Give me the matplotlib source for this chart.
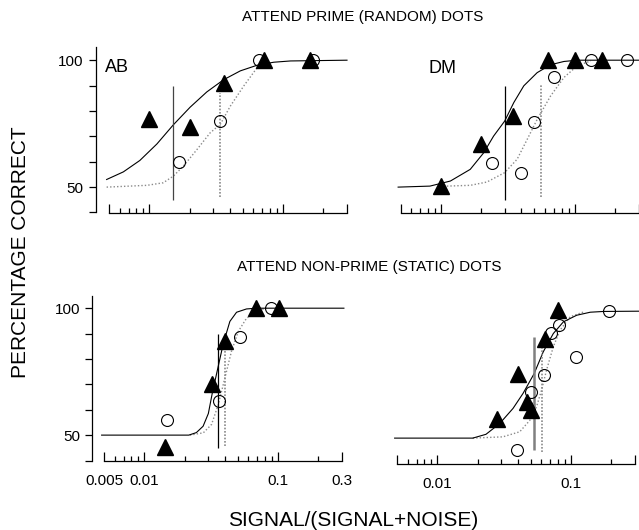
import numpy as np
import matplotlib.pyplot as plt
from matplotlib.ticker import FixedLocator, FixedFormatter

plt.rcParams['font.family'] = ['Liberation Sans', 'DejaVu Sans']

# ---- attend prime (random) dots, observer AB ----
pab_tri_x = [0.01, 0.0201, 0.0363, 0.0724, 0.1575]
pab_tri_y = [77, 73.5, 91, 100, 100]
pab_circ_x = [0.0168, 0.0339, 0.0665, 0.167]
pab_circ_y = [60, 76, 100, 100]
pab_fit_x = [0.0048, 0.0064, 0.0085, 0.0114, 0.0151, 0.0202, 0.0269, 0.0359, 0.0479, 0.0638, 0.0851, 0.1135, 0.3]
pab_fit_y = [53.0, 56.0, 60.5, 67.0, 74.5, 81.5, 87.5, 92.3, 95.8, 98.0, 99.2, 99.7, 100]
pab_fit2_x = [0.0048, 0.0096, 0.0127, 0.0151, 0.018, 0.0227, 0.0285, 0.0339, 0.0403, 0.0507, 0.0638, 0.0759]
pab_fit2_y = [50, 50.7, 51.7, 54.3, 58.3, 64.8, 71.4, 74.7, 81.9, 89.8, 97, 99.3]
pab_thr = [0.0151, 0.0339]

# ---- attend prime (random) dots, observer DM ----
pdm_tri_x = [0.01, 0.0201, 0.0345, 0.0634, 0.1006, 0.161]
pdm_tri_y = [50.5, 67, 78, 100, 100, 100]
pdm_circ_x = [0.0241, 0.04, 0.0495, 0.07, 0.132, 0.248]
pdm_circ_y = [59.6, 55.4, 75.8, 93.2, 100, 100]
pdm_fit_x = [0.0048, 0.0083, 0.0118, 0.0166, 0.0209, 0.0248, 0.030, 0.0351, 0.0417, 0.0525, 0.0661, 0.0832, 0.1047, 0.3]
pdm_fit_y = [50, 50.4, 52.4, 57, 63.5, 70.1, 76, 83.3, 89.9, 95.1, 98.2, 99.5, 100, 100]
pdm_fit2_x = [0.0111, 0.0166, 0.0221, 0.030, 0.0372, 0.0442, 0.0525, 0.0661, 0.0832, 0.1047, 0.1318]
pdm_fit2_y = [50.4, 50.7, 52, 55.7, 61, 68.8, 76.7, 85.9, 93.2, 97.8, 99.7]
pdm_thr = [0.030, 0.0556]

# ---- attend non-prime (static) dots, observer AB ----
sab_tri_x = [0.0143, 0.0322, 0.040, 0.0681, 0.101]
sab_tri_y = [45.4, 70.2, 87.2, 100, 100]
sab_circ_x = [0.0149, 0.036, 0.052, 0.0892]
sab_circ_y = [56.1, 63.3, 88.5, 100]
sab_fit_x = [0.0048, 0.0215, 0.0245, 0.0275, 0.0301, 0.0322, 0.0353, 0.0389, 0.0436, 0.0489, 0.058, 0.0689, 0.31]
sab_fit_y = [50, 50, 51, 53.5, 58.5, 66.5, 76, 86, 94.8, 98.4, 99.7, 100, 100]
sab_fit2_x = [0.0219, 0.0276, 0.0318, 0.0357, 0.040, 0.0448, 0.0503, 0.058, 0.0689, 0.0819]
sab_fit2_y = [50, 50.9, 54.2, 62, 72.5, 83, 90.8, 96, 99, 100]
sab_thr = [0.0353, 0.040]

# ---- attend non-prime (static) dots, observer DM ----
sdm_tri_x = [0.028, 0.0401, 0.0464, 0.0499, 0.0637, 0.0802]
sdm_tri_y = [57.7, 75.4, 64.3, 61, 89.2, 100.5]
sdm_circ_x = [0.0396, 0.0499, 0.0626, 0.0707, 0.0817, 0.109, 0.191]
sdm_circ_y = [45.3, 68.2, 74.8, 91.5, 94.7, 82, 100]
sdm_fit_x = [0.0048, 0.0184, 0.0231, 0.0292, 0.0368, 0.0437, 0.0529, 0.0619, 0.0736, 0.0875, 0.110, 0.139, 0.175, 0.32]
sdm_fit_y = [50, 50, 51.5, 55.7, 61.7, 67.6, 75.4, 84, 91.2, 95.8, 98.4, 99.6, 99.9, 100]
sdm_fit2_x = [0.0184, 0.0309, 0.0413, 0.0491, 0.0551, 0.0601, 0.0655, 0.0736, 0.0826, 0.0983, 0.124]
sdm_fit2_y = [50, 50.5, 52.5, 57, 62.3, 68.9, 76.8, 86, 92.5, 97.8, 99.7]
sdm_thr = [0.0529, 0.0601]

x_major = [0.005, 0.01, 0.1, 0.3]
x_minor = [0.006, 0.007, 0.008, 0.009, 0.02, 0.03, 0.04, 0.05, 0.06, 0.07, 0.08, 0.09, 0.2]
y_ticks = [40, 50, 60, 70, 80, 90, 100]
y_labels = ['', '50', '', '', '', '', '100']

W, H = 639, 530
fig = plt.figure(figsize=(W / 100, H / 100), dpi=100)


def panel(left, bottom, show_y, xlabels, yoff):
    ax = fig.add_axes([left / W, 1 - bottom / H, 238 / W, 165 / H])
    ax.set_xscale('log')
    ax.set_xlim(0.005, 0.3)
    ax.set_ylim(40, 105)
    ax.spines['top'].set_visible(False)
    ax.spines['right'].set_visible(False)
    ax.spines['bottom'].set_linewidth(0.9)
    ax.xaxis.set_major_locator(FixedLocator(x_major))
    ax.xaxis.set_minor_locator(FixedLocator(x_minor))
    ax.xaxis.set_major_formatter(FixedFormatter(xlabels))
    ax.xaxis.set_minor_formatter(FixedFormatter([''] * len(x_minor)))
    ax.tick_params(axis='x', which='major', direction='in', length=6.5, width=0.9,
                   pad=10, labelsize=11)
    ax.tick_params(axis='x', which='minor', direction='in', length=3.3, width=0.9)
    if show_y:
        ax.spines['left'].set_position(('outward', yoff))
        ax.spines['left'].set_linewidth(0.9)
        ax.set_yticks(y_ticks)
        ax.set_yticklabels(y_labels)
        ax.tick_params(axis='y', direction='out', length=5, width=0.9, pad=3.5, labelsize=11)
    else:
        ax.spines['left'].set_visible(False)
        ax.tick_params(axis='y', left=False, labelleft=False)
    return ax


def draw(ax, tri_x, tri_y, circ_x, circ_y, fit_x, fit_y, fit2_x, fit2_y, thr,
         span, span2, thr_color='black', thr_lw=0.9):
    ax.plot(fit2_x, fit2_y, color='#8a8a8a', lw=1.0, ls=(0, (1, 1.5)), clip_on=False)
    ax.plot(fit_x, fit_y, color='black', lw=0.8, clip_on=False)
    ax.vlines(thr[0], span[0], span[1], color=thr_color, lw=thr_lw)
    ax.vlines(thr[1], span2[0], span2[1], color='#8a8a8a', lw=1.2, linestyles=(0, (1, 1)))
    ax.plot(circ_x, circ_y, 'o', ms=8.6, mfc='none', mec='black', mew=0.8, clip_on=False)
    ax.plot(tri_x, tri_y, '^', ms=11, color='black', clip_on=False)


ax1 = panel(109, 212.5, True, [''] * 4, 9.7)
draw(ax1, pab_tri_x, pab_tri_y, pab_circ_x, pab_circ_y, pab_fit_x, pab_fit_y,
     pab_fit2_x, pab_fit2_y, pab_thr, (45, 90), (46, 87), '#444444')

ax2 = panel(400.5, 212.5, False, [''] * 4, 0)
draw(ax2, pdm_tri_x, pdm_tri_y, pdm_circ_x, pdm_circ_y, pdm_fit_x, pdm_fit_y,
     pdm_fit2_x, pdm_fit2_y, pdm_thr, (45, 90), (46, 90.5))

ax3 = panel(104, 460.5, True, ['0.005', '0.01', '0.1', '0.3'], 8.3)
draw(ax3, sab_tri_x, sab_tri_y, sab_circ_x, sab_circ_y, sab_fit_x, sab_fit_y,
     sab_fit2_x, sab_fit2_y, sab_thr, (45, 90), (45.7, 85.6))

ax4 = panel(397, 463.5, False, ['', '0.01', '0.1', ''], 0)
draw(ax4, sdm_tri_x, sdm_tri_y, sdm_circ_x, sdm_circ_y, sdm_fit_x, sdm_fit_y,
     sdm_fit2_x, sdm_fit2_y, sdm_thr, (45.3, 90), (44.6, 87.3), '#808080', 1.8)

fig.text(105 / W, 1 - 71.7 / H, 'AB', fontsize=13, va='baseline')
fig.text(429 / W, 1 - 73.3 / H, 'DM', fontsize=13, va='baseline')
fig.text(363 / W, 1 - 17 / H, 'ATTEND PRIME (RANDOM) DOTS', fontsize=11, ha='center', va='center')
fig.text(369 / W, 1 - 267 / H, 'ATTEND NON-PRIME (STATIC) DOTS', fontsize=11, ha='center', va='center')
fig.text(353 / W, 1 - 526 / H, 'SIGNAL/(SIGNAL+NOISE)', fontsize=15, ha='center', va='baseline')
fig.text(21 / W, 1 - 252 / H, 'PERCENTAGE CORRECT', fontsize=15, rotation=90, ha='center', va='center')

fig.savefig('out.png', dpi=100)
